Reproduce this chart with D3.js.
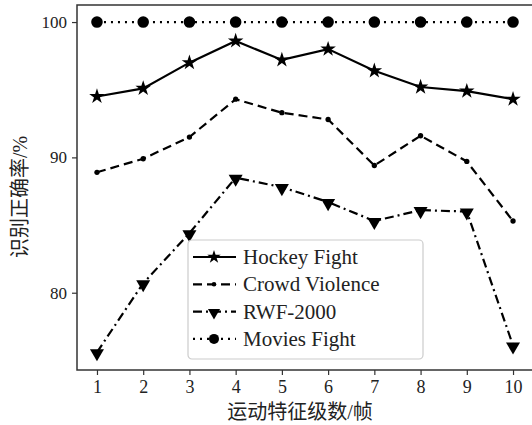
<!DOCTYPE html>
<html>
<head>
<meta charset="utf-8">
<script src="https://cdn.jsdelivr.net/npm/d3@7"></script>
<style>
  body { margin: 0; background: #fff; }
  text { font-family: "Liberation Serif", "Noto Sans CJK SC", serif; fill: #222; }
</style>
</head>
<body>
<div id="chart"></div>
<script>
// levels on x axis
const levels = [1, 2, 3, 4, 5, 6, 7, 8, 9, 10];
const hockey = [94.5, 95.1, 97.0, 98.6, 97.2, 98.0, 96.4, 95.2, 94.9, 94.3];
const crowd = [88.9, 89.9, 91.5, 94.3, 93.3, 92.8, 89.4, 91.6, 89.7, 85.3];
const rwf = [75.6, 80.7, 84.4, 88.5, 87.8, 86.7, 85.3, 86.1, 86.0, 76.1];
const movies = [100, 100, 100, 100, 100, 100, 100, 100, 100, 100];
const seriesNames = ["Hockey Fight", "Crowd Violence", "RWF-2000", "Movies Fight"];
const yTicks = [80, 90, 100];

const width = 532, height = 425;
const mLeft = 77, mRight = 533, mTop = 5, mBottom = 370;

const svg = d3.select("#chart").append("svg")
    .attr("width", width)
    .attr("height", height);

const x = d3.scaleLinear().domain([0.568, 10.432]).range([mLeft, mRight]);
const y = d3.scaleLinear().domain([74.29, 101.26]).range([mBottom, mTop]);

// axes
svg.append("g")
    .attr("transform", `translate(0,${mBottom})`)
    .call(d3.axisBottom(x).tickValues(levels).tickSize(5).tickPadding(5).tickFormat(d3.format("d")))
    .call(g => g.selectAll("text").style("font-size", "18px"));
svg.append("g")
    .attr("transform", `translate(${mLeft},0)`)
    .call(d3.axisLeft(y).tickValues(yTicks).tickSize(5).tickPadding(5))
    .call(g => g.selectAll("text").style("font-size", "17px"));
svg.selectAll(".domain").remove();
svg.selectAll(".tick line").attr("stroke", "#333").attr("stroke-width", 1.2);

// frame
svg.append("rect")
    .attr("x", mLeft).attr("y", mTop)
    .attr("width", mRight - mLeft).attr("height", mBottom - mTop)
    .attr("fill", "none").attr("stroke", "#333").attr("stroke-width", 1.5);

const series = [
    { name: seriesNames[0], values: hockey, dash: null, marker: "star", size: 75 },
    { name: seriesNames[1], values: crowd, dash: "9,5", marker: "dot", size: 22 },
    { name: seriesNames[2], values: rwf, dash: "9,4,2,4", marker: "tri", size: 85 },
    { name: seriesNames[3], values: movies, dash: "2,5", marker: "circle", size: 105 }
];

const shapes = {
    star: d3.symbolStar,
    dot: d3.symbolCircle,
    circle: d3.symbolCircle,
    tri: d3.symbolTriangle
};

function drawMarker(g, s, cx, cy, size) {
    const p = g.append("path")
        .attr("d", d3.symbol().type(shapes[s.marker]).size(size)())
        .attr("fill", "#000");
    if (s.marker === "tri") p.attr("transform", `translate(${cx},${cy + 1}) rotate(180)`);
    else p.attr("transform", `translate(${cx},${cy})`);
}

const line = d3.line().x((d, i) => x(levels[i])).y(d => y(d));

series.forEach(s => {
    svg.append("path")
        .datum(s.values)
        .attr("d", line)
        .attr("fill", "none")
        .attr("stroke", "#000")
        .attr("stroke-width", 2.2)
        .attr("stroke-dasharray", s.dash);
    const g = svg.append("g");
    s.values.forEach((v, i) => drawMarker(g, s, x(levels[i]), y(v), s.size));
});

// legend
const lg = svg.append("g").attr("transform", "translate(188,240)");
lg.append("rect")
    .attr("width", 235).attr("height", 119)
    .attr("rx", 4)
    .attr("fill", "#fff").attr("fill-opacity", 0.85)
    .attr("stroke", "#ccc").attr("stroke-width", 1.2);
series.forEach((s, i) => {
    const yy = 17 + i * 27.3;
    lg.append("line")
        .attr("x1", 5).attr("x2", 48)
        .attr("y1", yy).attr("y2", yy)
        .attr("stroke", "#000").attr("stroke-width", 2.2)
        .attr("stroke-dasharray", s.dash);
    drawMarker(lg, s, 26, yy, s.size * 0.75);
    lg.append("text")
        .attr("x", 55).attr("y", yy + 7)
        .style("font-size", "21px")
        .text(s.name);
});

// axis labels
svg.append("text")
    .attr("x", 300).attr("y", 419)
    .attr("text-anchor", "middle")
    .style("font-size", "20px")
    .text("运动特征级数/帧");
svg.append("text")
    .attr("transform", "translate(27,197) rotate(-90)")
    .attr("text-anchor", "middle")
    .style("font-size", "20px")
    .text("识别正确率/%");
</script>
</body>
</html>
